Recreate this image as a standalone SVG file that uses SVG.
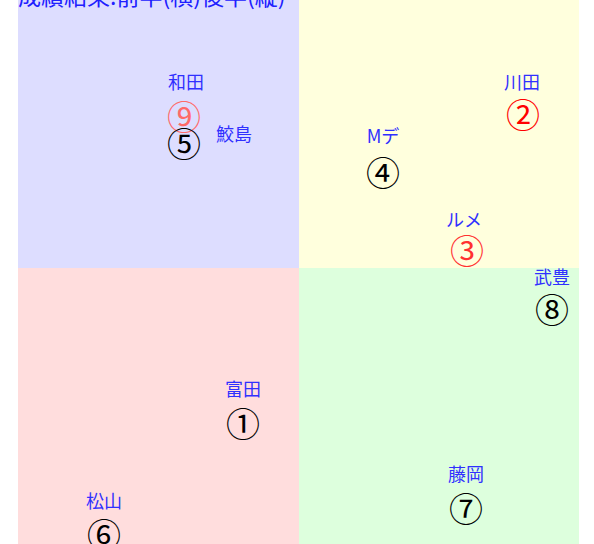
<svg xmlns="http://www.w3.org/2000/svg" width="594" height="544" viewBox="0 0 594 544">
<style>
.lbl{font-family:"Noto Sans CJK JP",sans-serif;font-size:18px;fill:#3030ff;text-anchor:middle}
.num{font-family:"Noto Sans CJK JP",sans-serif;font-size:34px;text-anchor:middle}
.blk{fill:#000}
.red{fill:#ff0000}
.red2{fill:#ff3030}
.pink{fill:#ff6a6a}
</style>
<rect width="594" height="544" fill="#ffffff"/>
<g id="quadrants">
<rect x="18" y="0" width="281" height="268" fill="#ddddff"/>
<rect x="299" y="0" width="280" height="268" fill="#ffffdd"/>
<rect x="18" y="268" width="281" height="276" fill="#ffdddd"/>
<rect x="299" y="268" width="280" height="276" fill="#ddffdd"/>
</g>
<text id="title" x="18" y="5" font-family="Noto Sans CJK JP,sans-serif" font-size="23" fill="#2020ff">成績結果:前半(横)後半(縦)</text>
<g id="n-wada"><text class="lbl" x="186" y="89">和田</text><text class="num pink" x="184" y="130">⑨</text></g>
<g id="n-samejima"><text class="lbl" x="234" y="141">鮫島</text><text class="num blk" x="184" y="157">⑤</text></g>
<g id="n-kawada"><text class="lbl" x="522" y="89">川田</text><text class="num red" x="523" y="128">②</text></g>
<g id="n-mde"><text class="lbl" x="383" y="143">Mデ</text><text class="num blk" x="383" y="186">④</text></g>
<g id="n-lemaire"><text class="lbl" x="464" y="227">ルメ</text><text class="num red2" x="467" y="264">③</text></g>
<g id="n-take"><text class="lbl" x="552" y="284">武豊</text><text class="num blk" x="552" y="323">⑧</text></g>
<g id="n-tomita"><text class="lbl" x="243" y="396">富田</text><text class="num blk" x="243" y="437">①</text></g>
<g id="n-fujioka"><text class="lbl" x="466" y="481">藤岡</text><text class="num blk" x="466" y="522">⑦</text></g>
<g id="n-matsuyama"><text class="lbl" x="104" y="508">松山</text><text class="num blk" x="104" y="548">⑥</text></g>
<g id="connectors"></g>
</svg>
